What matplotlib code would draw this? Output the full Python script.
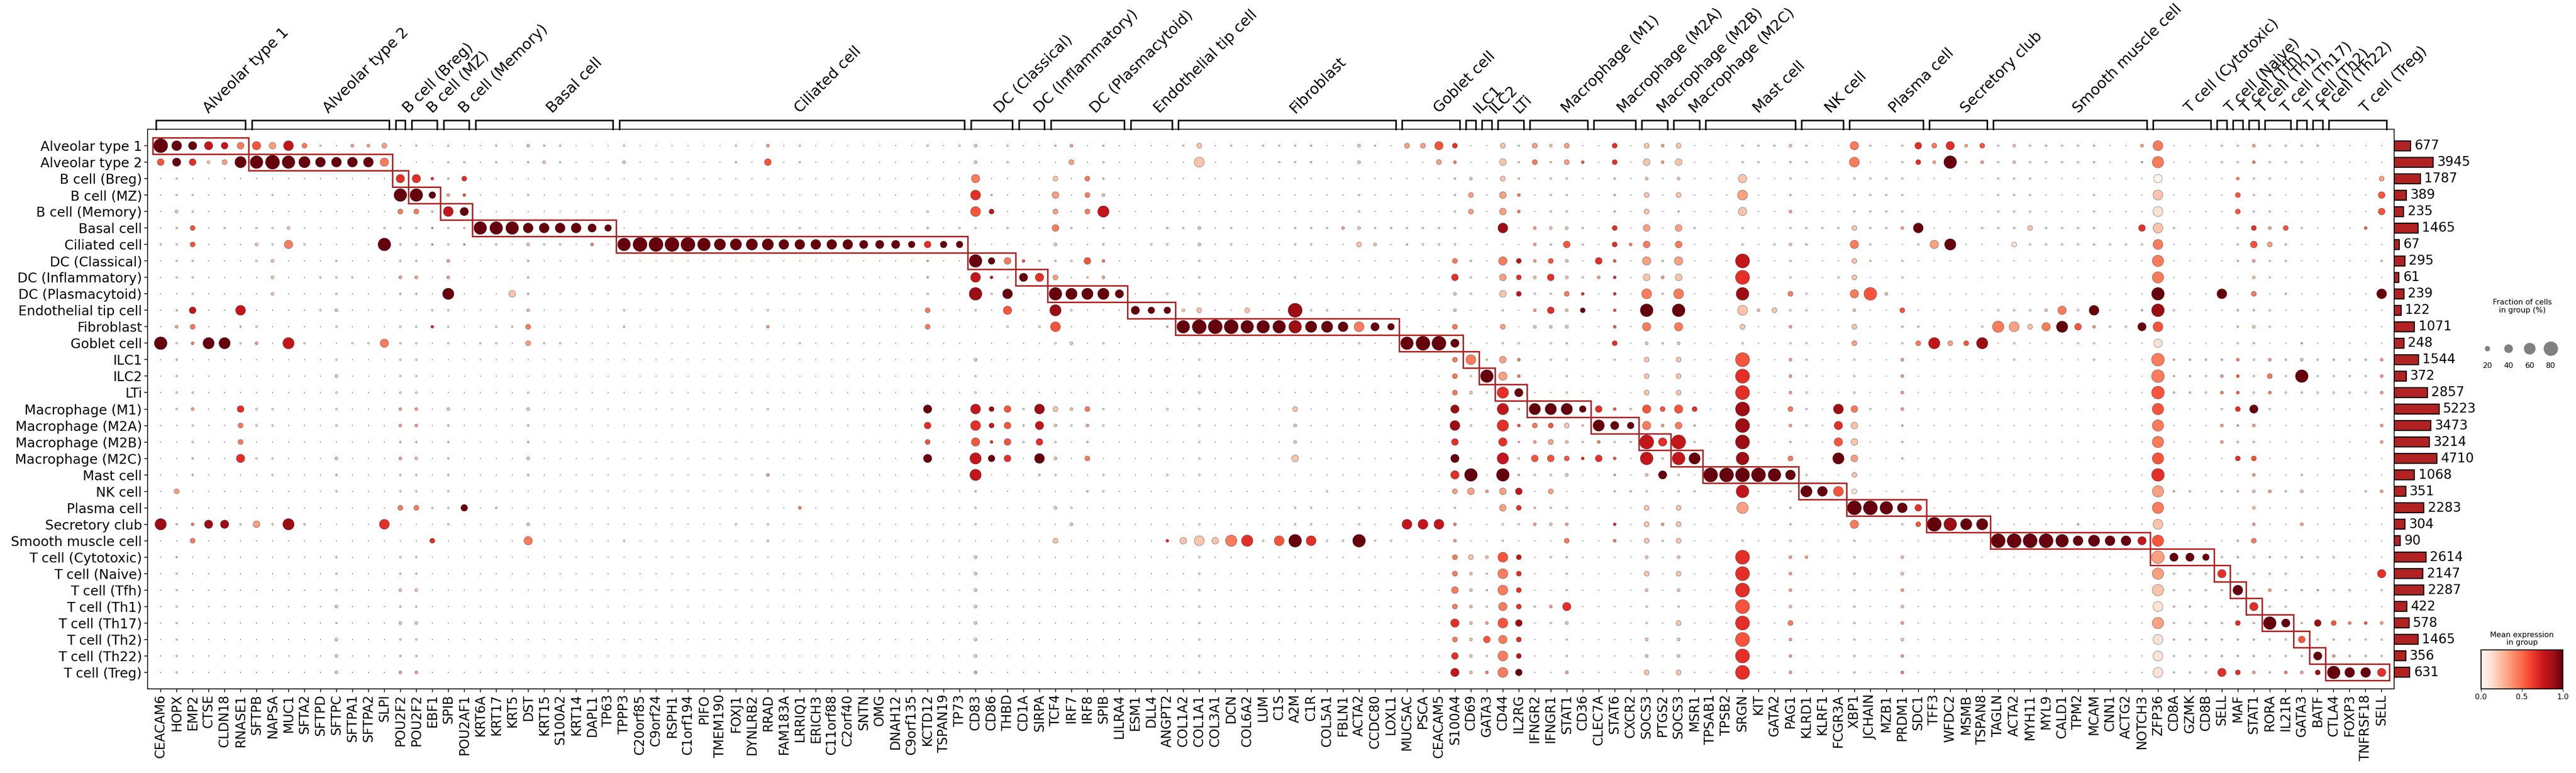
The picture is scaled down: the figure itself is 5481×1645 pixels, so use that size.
import numpy as np
import matplotlib
matplotlib.use("Agg")
import matplotlib.pyplot as plt
from matplotlib.patches import Rectangle
from matplotlib.lines import Line2D
from matplotlib import cm, colors

plt.rcParams['font.family'] = ['DejaVu Sans']

# ---------------- data ----------------
CELL_TYPES = [
    "Alveolar type 1", "Alveolar type 2", "B cell (Breg)", "B cell (MZ)", "B cell (Memory)",
    "Basal cell", "Ciliated cell", "DC (Classical)", "DC (Inflammatory)", "DC (Plasmacytoid)",
    "Endothelial tip cell", "Fibroblast", "Goblet cell", "ILC1", "ILC2", "LTi",
    "Macrophage (M1)", "Macrophage (M2A)", "Macrophage (M2B)", "Macrophage (M2C)",
    "Mast cell", "NK cell", "Plasma cell", "Secretory club", "Smooth muscle cell",
    "T cell (Cytotoxic)", "T cell (Naive)", "T cell (Tfh)", "T cell (Th1)", "T cell (Th17)",
    "T cell (Th2)", "T cell (Th22)", "T cell (Treg)",
]

GENES_BY_TYPE = [
    ["CEACAM6", "HOPX", "EMP2", "CTSE", "CLDN18", "RNASE1"],
    ["SFTPB", "NAPSA", "MUC1", "SFTA2", "SFTPD", "SFTPC", "SFTPA1", "SFTPA2", "SLPI"],
    ["POU2F2"],
    ["POU2F2", "EBF1"],
    ["SPIB", "POU2AF1"],
    ["KRT6A", "KRT17", "KRT5", "DST", "KRT15", "S100A2", "KRT14", "DAPL1", "TP63"],
    ["TPPP3", "C20orf85", "C9orf24", "RSPH1", "C1orf194", "PIFO", "TMEM190", "FOXJ1",
     "DYNLRB2", "RRAD", "FAM183A", "LRRIQ1", "ERICH3", "C11orf88", "C2orf40", "SNTN",
     "OMG", "DNAH12", "C9orf135", "KCTD12", "TSPAN19", "TP73"],
    ["CD83", "CD86", "THBD"],
    ["CD1A", "SIRPA"],
    ["TCF4", "IRF7", "IRF8", "SPIB", "LILRA4"],
    ["ESM1", "DLL4", "ANGPT2"],
    ["COL1A2", "COL1A1", "COL3A1", "DCN", "COL6A2", "LUM", "C1S", "A2M", "C1R",
     "COL5A1", "FBLN1", "ACTA2", "CCDC80", "LOXL1"],
    ["MUC5AC", "PSCA", "CEACAM5", "S100A4"],
    ["CD69"],
    ["GATA3"],
    ["CD44", "IL2RG"],
    ["IFNGR2", "IFNGR1", "STAT1", "CD36"],
    ["CLEC7A", "STAT6", "CXCR2"],
    ["SOCS3", "PTGS2"],
    ["SOCS3", "MSR1"],
    ["TPSAB1", "TPSB2", "SRGN", "KIT", "GATA2", "PAG1"],
    ["KLRD1", "KLRF1", "FCGR3A"],
    ["XBP1", "JCHAIN", "MZB1", "PRDM1", "SDC1"],
    ["TFF3", "WFDC2", "MSMB", "TSPAN8"],
    ["TAGLN", "ACTA2", "MYH11", "MYL9", "CALD1", "TPM2", "MCAM", "CNN1", "ACTG2", "NOTCH3"],
    ["ZFP36", "CD8A", "GZMK", "CD8B"],
    ["SELL"],
    ["MAF"],
    ["STAT1"],
    ["RORA", "IL21R"],
    ["GATA3"],
    ["BATF"],
    ["CTLA4", "FOXP3", "TNFRSF18", "SELL"],
]

CELL_COUNTS = [677, 3945, 1787, 389, 235, 1465, 67, 295, 61, 239, 122, 1071, 248,
               1544, 372, 2857, 5223, 3473, 3214, 4710, 1068, 351, 2283, 304, 90,
               2614, 2147, 2287, 422, 578, 1465, 356, 631]

# fraction (%) for size codes 0-9, mean expression = code / 9
FRAC_LEVELS = [1.5, 5, 10, 20, 30, 40, 50, 60, 70, 80]
BACKGROUND_FRAC = 1.5
BACKGROUND_EXPR = 0.06

# per row: "gene_index:SE" with S = size code, E = colour code
ROW_DOTS = [
    # Alveolar type 1
    "0:99 1:69 2:59 3:57 4:47 5:44 6:55 7:43 8:67 9:34 10:11 11:01 12:23 13:23 14:33 16:11 18:11 21:11 23:22 24:12 25:11 29:11 "
    "36:11 38:23 40:11 48:11 50:11 51:22 53:11 56:12 57:23 59:12 64:11 65:32 67:11 69:11 70:11 "
    "71:11 72:12 75:22 76:11 78:33 79:33 80:55 81:36 84:32 85:11 86:33 87:22 88:33 91:36 93:32 94:23 95:32 99:11 100:11 101:11 102:22 103:11 "
    "106:54 107:11 109:11 110:46 111:34 112:56 113:23 114:35 115:11 116:22 117:11 118:12 119:11 120:11 121:12 124:23 125:64 129:11 130:11 131:23 132:11 133:11 134:11 135:12",
    # Alveolar type 2
    "0:45 1:59 2:46 3:22 4:33 5:79 6:89 7:99 8:89 9:79 10:69 11:69 12:69 13:69 14:54 15:01 16:01 18:11 19:11 21:11 23:12 24:22 25:11 29:22 "
    "36:12 38:45 40:11 51:22 53:11 57:33 59:11 65:62 70:11 "
    "71:11 72:12 75:22 80:33 81:24 84:42 85:11 86:34 87:12 88:33 89:25 91:36 93:42 94:23 95:42 99:11 100:11 102:12 103:11 "
    "106:64 109:11 110:36 111:23 112:89 113:12 114:23 115:11 116:22 117:11 118:11 119:11 120:11 121:12 124:13 125:74 129:11 130:11 131:24 132:11 133:11 134:11",
    # B cell (Breg)
    "1:11 15:56 16:56 17:26 18:12 19:36 "
    "51:54 56:32 58:34 59:12 "
    "81:12 82:22 84:32 85:12 87:11 88:11 91:12 93:22 95:22 99:52 102:11 "
    "106:11 107:11 108:11 109:11 115:11 116:11 117:11 125:50 130:24 131:11 132:11 139:33",
    # B cell (MZ)
    "1:11 2:11 7:11 15:89 16:89 17:49 18:23 19:25 23:11 "
    "51:66 52:12 56:43 58:34 59:22 "
    "75:11 81:12 82:33 84:43 85:24 87:11 88:11 91:13 93:32 95:32 99:63 102:12 "
    "106:11 107:11 108:11 109:11 115:11 116:11 117:11 121:11 125:62 130:35 131:11 132:11 139:45",
    # B cell (Memory)
    "1:22 2:11 15:34 16:34 17:12 18:67 19:59 "
    "48:11 51:65 52:37 56:33 58:34 59:77 "
    "75:11 81:11 82:33 84:43 85:24 87:11 88:11 91:12 93:32 95:12 99:52 102:23 "
    "106:11 107:11 108:11 109:11 115:11 116:11 117:11 121:11 125:61 130:35 131:11 132:11 139:45",
    # Basal cell
    "1:12 2:35 4:11 6:11 7:11 8:22 14:11 15:11 16:11 17:14 18:11 19:11 20:89 21:89 22:89 23:69 24:69 25:69 26:69 27:59 28:49 "
    "40:11 48:12 50:11 51:11 53:11 56:44 57:11 59:11 63:12 64:11 65:22 67:11 "
    "71:11 72:11 73:11 74:23 75:22 76:11 77:12 78:11 79:11 80:11 81:11 84:68 86:23 87:22 88:22 89:11 91:36 93:43 95:43 96:11 99:11 102:11 103:11 104:11 105:11 "
    "106:32 107:11 108:11 109:23 110:69 114:11 115:11 116:12 117:32 118:11 119:11 120:11 121:12 124:46 125:62 126:11 130:11 131:36 132:23 133:35 134:11 138:25",
    # Ciliated cell
    "0:11 1:11 2:35 6:22 7:11 8:54 9:11 14:89 15:11 16:11 17:14 18:11 19:14 21:11 23:22 24:11 25:11 27:24 29:89 30:99 31:99 32:99 33:99 34:89 "
    "35:79 36:79 37:79 38:79 39:69 40:69 41:69 42:69 43:69 44:59 45:59 46:59 47:49 48:46 49:49 50:49 56:22 59:12 62:11 63:11 65:22 67:11 "
    "71:11 72:11 75:32 76:22 78:12 79:11 80:11 81:11 86:23 87:12 88:45 89:11 91:36 92:24 93:44 95:44 99:11 101:11 102:22 103:12 "
    "106:54 107:11 110:11 111:53 112:79 116:31 117:11 118:11 119:11 120:11 121:12 122:11 123:11 124:11 125:64 130:11 131:45 132:33 133:12",
    # DC (Classical)
    "1:11 2:11 6:11 7:22 11:11 15:11 16:11 18:23 23:12 "
    "48:13 51:89 52:49 53:44 54:25 55:12 56:12 57:11 58:45 59:24 65:11 "
    "81:34 82:12 84:54 85:37 86:23 87:35 88:22 90:46 91:25 93:53 94:12 95:53 99:97 102:11 "
    "106:32 107:11 109:11 125:74 130:12 131:23 132:11 133:11 139:12",
    # DC (Inflammatory)
    "1:11 2:11 7:22 10:11 11:11 12:11 15:23 16:23 18:23 23:12 "
    "48:13 51:67 52:27 53:11 54:59 55:56 56:33 58:12 59:23 65:11 "
    "71:11 81:46 82:11 84:43 85:36 86:22 87:46 88:22 89:11 90:23 91:26 93:42 94:23 95:42 99:96 102:11 105:11 "
    "106:32 109:11 125:74 131:22 132:11",
    # DC (Plasmacytoid)
    "2:11 7:22 11:11 15:12 16:12 18:79 22:42 23:12 "
    "48:11 51:88 52:11 53:69 56:89 57:79 58:79 59:79 60:59 63:11 65:11 "
    "81:22 82:11 84:42 85:37 86:11 87:11 88:34 89:26 91:26 93:64 94:11 95:64 99:88 102:34 103:11 "
    "106:54 107:85 108:22 125:89 129:69 131:34 133:12 139:69",
    # Endothelial tip cell
    "1:12 2:47 5:67 10:11 11:22 17:11 18:11 23:22 29:11 "
    "38:11 48:34 51:11 53:55 56:78 57:11 61:59 62:49 63:49 64:22 65:32 68:32 "
    "71:98 72:11 73:11 75:11 81:22 84:11 86:23 87:46 88:22 89:39 91:25 93:89 95:89 99:62 100:22 101:32 102:11 103:11 "
    "106:22 109:35 115:11 116:11 117:11 118:22 119:54 120:11 121:69 124:13 125:88 126:11 130:12 131:12 132:11",
    # Fibroblast
    "1:23 2:34 5:12 6:11 11:11 15:11 16:11 17:26 18:11 21:11 22:11 23:34 29:12 "
    "38:23 48:34 53:11 55:11 56:65 63:13 64:89 65:99 66:99 67:99 68:89 69:89 70:89 "
    "71:88 72:79 73:79 74:69 75:64 76:59 77:49 81:34 84:33 86:22 87:22 88:22 91:25 93:54 95:54 99:32 102:23 "
    "106:32 109:12 110:12 114:11 115:74 116:63 117:32 118:54 119:79 120:45 121:23 122:11 123:11 124:59 125:65 130:12 131:22 132:11",
    # Goblet cell
    "0:89 1:11 2:24 3:79 4:79 5:11 6:23 8:77 9:11 12:11 13:11 14:54 15:11 16:11 18:11 20:11 21:11 23:33 24:11 25:11 "
    "40:11 56:11 57:22 59:11 65:11 "
    "75:11 78:89 79:99 80:99 81:59 84:11 85:11 87:11 88:12 91:36 93:22 94:11 95:22 99:11 102:11 103:11 "
    "106:33 109:11 110:34 111:77 112:33 113:35 114:78 116:11 120:11 121:11 125:51 130:11 131:12 134:13",
    # ILC1
    "1:12 11:11 15:11 16:11 "
    "51:22 65:11 "
    "81:34 82:64 83:12 84:43 85:24 87:11 88:11 91:11 93:32 95:32 99:95 102:23 103:11 "
    "106:11 109:23 116:11 121:11 125:84 126:13 127:13 128:12 129:13 130:24 131:11 132:23 133:12 134:22 135:11 136:12 137:11 138:12 139:23",
    # ILC2
    "1:11 11:22 15:11 16:11 "
    "51:11 65:11 "
    "81:34 82:11 83:89 84:53 85:24 88:11 93:32 95:32 99:96 102:23 103:11 "
    "106:11 109:23 125:84 126:12 127:12 128:11 129:23 130:25 131:11 132:34 133:11 134:89 135:11 136:11 137:11 138:11 139:23",
    # LTi
    "1:11 2:11 11:11 15:11 16:11 23:11 "
    "51:11 65:11 "
    "81:34 82:22 83:11 84:76 85:59 88:11 93:32 95:32 99:96 102:23 103:11 "
    "106:11 109:23 125:85 126:12 127:12 128:11 129:24 130:25 131:11 132:24 133:11 134:12 135:11 136:11 137:11 138:11 139:23",
    # Macrophage (M1)
    "1:11 2:23 5:46 6:11 7:11 11:11 15:23 16:23 18:22 23:22 "
    "38:11 48:59 51:67 52:38 53:45 54:11 55:68 56:32 57:22 58:34 59:11 63:11 65:11 "
    "71:32 81:58 82:11 84:77 85:13 86:79 87:79 88:79 89:49 90:46 91:25 92:12 93:55 94:35 95:55 96:36 99:98 102:34 103:11 105:68 "
    "106:44 107:11 109:23 125:75 129:11 130:36 131:59 132:11 139:11",
    # Macrophage (M2A)
    "2:11 5:34 6:11 7:11 11:11 15:23 16:23 18:12 23:12 "
    "48:46 51:66 52:37 53:45 54:12 55:57 56:22 57:11 58:23 59:11 65:11 "
    "71:22 81:68 82:11 84:76 85:25 86:34 87:35 88:32 89:12 90:79 91:59 92:49 93:54 94:23 95:44 96:13 99:98 102:23 103:11 105:56 "
    "106:42 109:13 125:74 129:23 130:14 131:23 139:23",
    # Macrophage (M2B)
    "2:11 5:34 15:12 16:12 18:12 23:12 "
    "48:35 51:55 52:26 53:45 54:11 55:46 56:11 58:12 65:11 "
    "71:22 81:46 84:56 85:13 86:23 87:33 88:22 89:11 90:24 91:11 92:12 93:97 94:56 95:97 96:11 99:98 102:12 105:55 "
    "106:42 109:12 125:74 129:23 130:12 131:12 139:23",
    # Macrophage (M2C)
    "2:12 5:56 6:11 7:11 11:22 15:23 16:22 18:12 23:22 "
    "48:59 51:77 52:49 53:46 55:69 56:22 58:34 65:11 "
    "71:42 81:59 84:77 85:12 86:45 87:45 88:35 89:26 90:46 91:25 93:87 94:11 95:87 96:79 99:88 102:34 105:79 "
    "106:43 109:12 125:75 130:36 131:35",
    # Mast cell
    "2:12 7:11 11:12 15:11 16:11 18:12 23:12 "
    "38:23 51:77 55:12 56:11 59:11 63:11 65:11 "
    "81:56 82:89 84:89 85:13 86:11 87:11 88:22 91:14 93:22 94:59 95:11 97:99 98:99 99:99 100:99 101:89 102:69 103:11 "
    "106:32 125:86 131:23 134:12",
    # NK cell
    "1:33 11:11 15:11 16:11 18:11 "
    "51:12 58:12 59:11 "
    "73:11 81:33 82:43 83:23 84:43 85:47 87:33 91:12 92:12 93:11 95:11 96:11 99:87 102:11 103:79 104:69 105:65 "
    "106:31 109:11 125:73 126:13 127:12 129:12 130:12 131:22 132:23 133:12 134:22 138:12 139:23",
    # Plasma cell
    "15:34 16:34 17:11 18:11 19:49 21:12 "
    "40:24 51:11 56:22 57:11 "
    "71:11 72:11 75:11 81:11 84:43 85:36 86:12 87:11 88:11 93:32 95:32 99:73 102:12 "
    "106:99 107:99 108:89 109:69 110:46 125:74 131:22",
    # Secretory club
    "0:78 1:12 2:24 3:58 4:58 5:11 6:43 7:11 8:78 9:12 14:66 18:11 23:22 "
    "36:11 38:11 51:11 57:22 65:11 "
    "71:11 72:11 75:11 78:67 79:67 80:67 81:24 84:11 85:11 86:23 87:22 88:23 91:26 93:32 94:23 95:32 102:12 "
    "106:54 109:11 110:35 111:99 112:88 113:79 114:79 120:13 125:62 131:23 134:23",
    # Smooth muscle cell
    "2:34 17:36 23:54 29:11 "
    "38:12 56:32 63:26 64:42 65:62 66:42 67:74 68:76 69:11 70:65 "
    "71:89 72:66 73:11 74:11 75:89 76:11 77:11 81:23 84:11 88:34 91:24 93:32 94:11 95:32 99:11 102:11 "
    "106:11 115:99 116:99 117:99 118:99 119:89 120:69 121:79 122:69 123:69 124:57 125:75 130:12 131:34",
    # T cell (Cytotoxic)
    "1:12 11:11 15:11 16:11 "
    "51:22 65:11 "
    "81:34 82:32 83:22 84:65 85:37 87:11 88:12 93:22 95:22 99:96 102:23 103:23 "
    "106:11 109:22 125:83 126:59 127:59 128:49 129:11 130:12 131:11 132:12 133:11 134:12 135:11 136:11",
    # T cell (Naive)
    "1:11 11:11 15:11 16:11 "
    "51:22 65:11 "
    "81:34 82:22 83:11 84:64 85:36 88:11 93:32 95:32 99:96 102:23 "
    "106:11 109:22 125:73 126:11 127:11 128:11 129:56 130:11 131:11 132:12 133:11 139:56",
    # T cell (Tfh)
    "1:11 11:11 15:22 16:22 "
    "51:22 65:11 "
    "81:44 82:22 83:12 84:64 85:36 88:11 93:22 95:22 99:96 102:23 "
    "106:11 109:23 125:72 126:11 127:11 128:11 129:12 130:69 131:11 132:23 133:12 134:12 135:13 136:11 137:11 139:11",
    # T cell (Th1)
    "1:11 11:22 15:11 16:11 "
    "51:22 65:11 "
    "81:34 82:22 83:11 84:54 85:36 86:11 87:23 88:56 93:11 95:11 99:95 102:22 "
    "106:11 109:22 125:61 126:12 127:12 128:11 130:12 131:56 132:11 133:11",
    # T cell (Th17)
    "1:11 11:11 15:22 16:22 "
    "51:22 65:11 "
    "81:56 82:22 83:23 84:65 85:48 87:11 88:22 93:11 95:32 99:96 102:34 "
    "106:11 109:23 125:73 126:11 127:11 128:11 129:12 130:36 131:12 132:89 133:59 134:12 135:48 136:35 137:24 138:25 139:23",
    # T cell (Th2)
    "1:11 11:22 15:11 16:11 "
    "51:22 65:11 "
    "81:34 82:22 83:45 84:54 85:36 88:11 93:22 95:22 99:95 102:23 "
    "106:11 109:22 125:61 126:12 127:12 128:12 129:12 130:12 131:12 132:11 133:11 134:45 135:11 136:12 137:11 138:11 139:11",
    # T cell (Th22)
    "1:11 11:22 15:12 16:12 "
    "51:22 65:11 "
    "81:46 82:22 83:11 84:64 85:37 88:11 93:22 95:22 99:96 102:23 "
    "106:11 109:23 125:61 126:11 127:11 128:11 129:12 130:12 131:12 132:11 133:11 134:12 135:59 136:23 137:12 138:12 139:11",
    # T cell (Treg)
    "1:11 11:22 15:23 16:23 "
    "51:23 65:11 "
    "81:57 82:22 83:24 84:64 85:49 88:23 93:32 95:32 99:96 102:23 "
    "106:11 109:24 125:61 126:11 127:11 128:11 129:56 130:36 131:23 132:12 133:24 134:23 135:38 136:89 137:69 138:69 139:56",
]

# ---------------- build matrices ----------------
genes = [g for grp in GENES_BY_TYPE for g in grp]
n_rows, n_cols = len(CELL_TYPES), len(genes)
frac = np.full((n_rows, n_cols), BACKGROUND_FRAC)
expr = np.full((n_rows, n_cols), BACKGROUND_EXPR)
for r, s in enumerate(ROW_DOTS):
    for tok in s.split():
        c, v = tok.split(":")
        frac[r, int(c)] = FRAC_LEVELS[int(v[0])]
        expr[r, int(c)] = int(v[1]) / 9.0

DOT_MAX = 80.0
S_MAX = (30 * 0.72) ** 2  # largest dot ~30 px at dpi 100

# ---------------- figure ----------------
W, H = 5481, 1645
DPI = 100
fig = plt.figure(figsize=(W / DPI, H / DPI), dpi=DPI)

def fx(px):
    return px / W

def fy(px):
    return 1 - px / H

ax_left, ax_right, ax_top, ax_bottom = 314, 5094, 275, 1466
ax = fig.add_axes([fx(ax_left), fy(ax_bottom), fx(ax_right - ax_left), (ax_bottom - ax_top) / H])

cmap = plt.get_cmap("Reds")
xx, yy = np.meshgrid(np.arange(n_cols), np.arange(n_rows))
sizes = (frac / DOT_MAX) ** 1.5 * S_MAX
ax.scatter(xx.ravel(), yy.ravel(), s=sizes.ravel(), c=expr.ravel(), cmap=cmap,
           vmin=0, vmax=1, edgecolors="black", linewidths=0.3, zorder=2)

ax.set_xlim(-0.82, n_cols - 1 + 0.78)
ax.set_ylim(n_rows, -1)
ax.set_xticks(np.arange(n_cols))
ax.set_xticklabels(genes, rotation=90, fontsize=20)
ax.set_yticks(np.arange(n_rows))
ax.set_yticklabels(CELL_TYPES, fontsize=20.5)
ax.tick_params(axis="both", length=5, width=1.2)
for sp in ax.spines.values():
    sp.set_linewidth(1.3)

# highlight boxes and brackets
box_color = "#b22222"
start = 0
for g, grp in enumerate(GENES_BY_TYPE):
    a, b = start, start + len(grp) - 1
    ax.add_patch(Rectangle((a - 0.5, g - 0.5), b - a + 1, 1, fill=False,
                           edgecolor=box_color, linewidth=2.3, zorder=3, clip_on=False))
    left, right = a - 0.3, b + 0.3
    y0, y1 = -1.0, -1.55
    ax.add_line(Line2D([left, left, right, right], [y0, y1, y1, y0], color="black",
                       linewidth=2.4, clip_on=False, solid_joinstyle="miter"))
    ax.text((left + right) / 2, -1.8, CELL_TYPES[g], rotation=45, ha="left", va="bottom",
            fontsize=23, clip_on=False)
    start = b + 1

# totals bar
bar_ax = fig.add_axes([fx(5094), fy(ax_bottom), fx(175), (ax_bottom - ax_top) / H])
bar_ax.barh(np.arange(n_rows), CELL_COUNTS, height=0.6, color="#b22222",
            edgecolor="black", linewidth=1.7)
bar_ax.set_xscale("function", functions=(lambda x: np.sqrt(np.clip(x, 0, None)),
                                         lambda x: np.square(x)))
bar_ax.set_xlim(0, 17400)
bar_ax.set_ylim(n_rows, -1)
for i, cnt in enumerate(CELL_COUNTS):
    bar_ax.annotate(str(cnt), xy=(cnt, i), xytext=(6, 0), textcoords="offset points",
                    va="center", ha="left", fontsize=20, annotation_clip=False)
bar_ax.axis("off")

# size legend
fig.text(fx(5367), fy(652), "Fraction of cells\nin group (%)", ha="center", va="center",
         fontsize=11.5, linespacing=1.1)
leg_ax = fig.add_axes([fx(5270), fy(760), fx(180), 36 / H])
leg_vals = [20, 40, 60, 80]
leg_ax.scatter(np.arange(4), np.zeros(4), s=(np.array(leg_vals) / DOT_MAX) ** 1.5 * S_MAX,
               color="#808080", edgecolors="#707070", linewidths=0.3)
leg_ax.set_xlim(-0.5, 3.5)
leg_ax.set_ylim(-0.5, 0.5)
leg_ax.set_xticks(np.arange(4))
leg_ax.set_xticklabels([str(v) for v in leg_vals], fontsize=11.5)
leg_ax.set_yticks([])
leg_ax.tick_params(axis="x", length=0, pad=8)
for sp in leg_ax.spines.values():
    sp.set_visible(False)

# colorbar
cax = fig.add_axes([fx(5279), fy(1466), fx(174), 83 / H])
sm = cm.ScalarMappable(norm=colors.Normalize(vmin=0, vmax=1), cmap=cmap)
cb = fig.colorbar(sm, cax=cax, orientation="horizontal")
cb.set_ticks([0.0, 0.5, 1.0])
cb.set_ticklabels(["0.0", "0.5", "1.0"])
cb.ax.tick_params(labelsize=11.5, length=4)
cb.outline.set_linewidth(1.5)
cax.set_title("Mean expression\nin group", fontsize=11.5, pad=8, linespacing=1.1)

fig.savefig("out.png", dpi=DPI)
